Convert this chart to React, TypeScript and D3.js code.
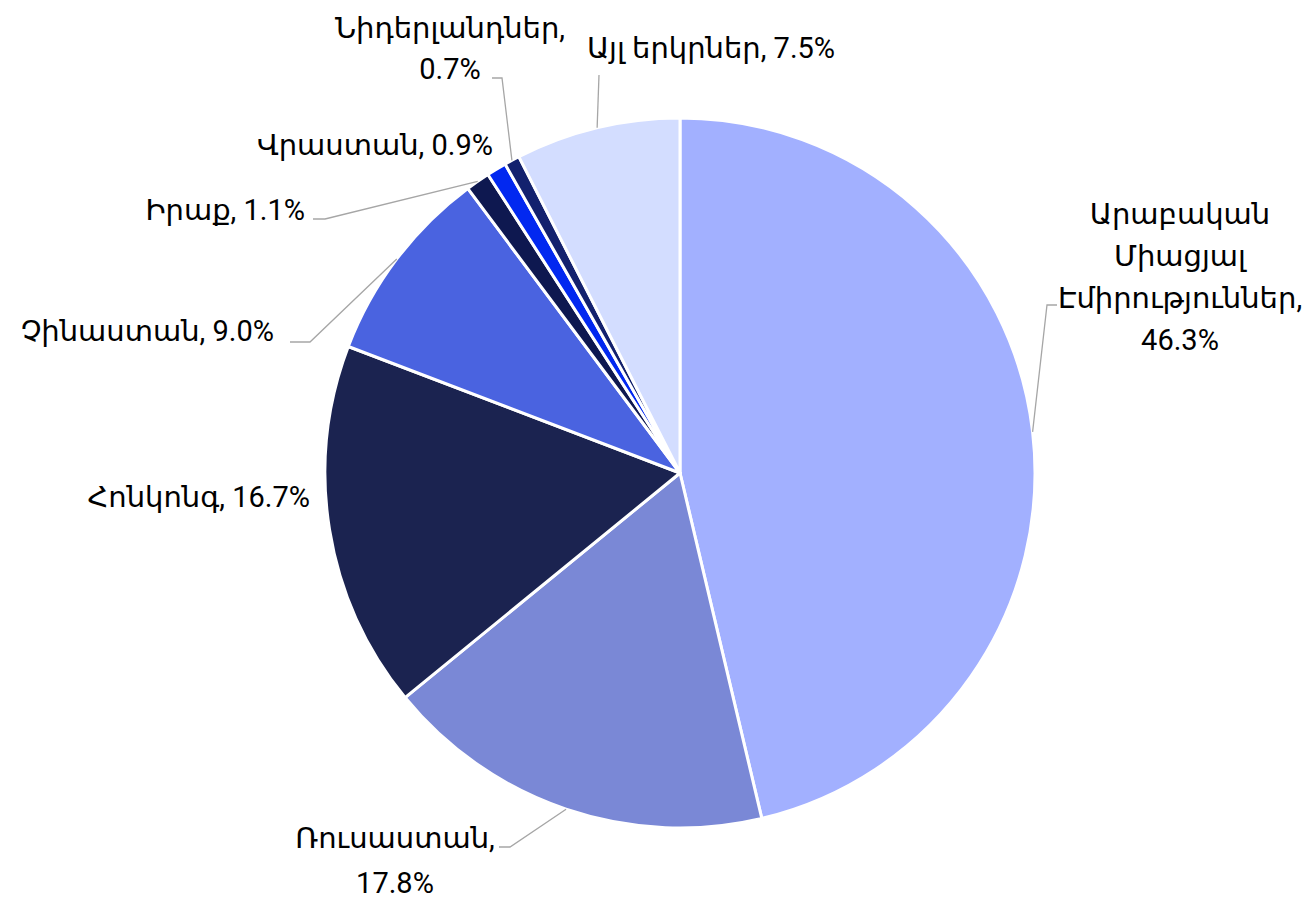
import React from "react";
import * as d3 from "d3";

const countries = [
  "Արաբական Միացյալ Էմիրություններ",
  "Ռուսաստան",
  "Հոնկոնգ",
  "Չինաստան",
  "Իրաք",
  "Վրաստան",
  "Նիդերլանդներ",
  "Այլ երկրներ",
];
const shares = [46.3, 17.8, 16.7, 9.0, 1.1, 0.9, 0.7, 7.5];
const colors = ["#a2b0ff", "#7a88d6", "#1b2350", "#4a63e0", "#0e1850", "#0228f0", "#13216e", "#d3ddff"];

// label text lines
const labelLines: string[][] = [
  ["Արաբական", "Միացյալ", "Էմիրություններ,", "46.3%"],
  ["Ռուսաստան,", "17.8%"],
  ["Հոնկոնգ, 16.7%"],
  ["Չինաստան, 9.0%"],
  ["Իրաք, 1.1%"],
  ["Վրաստան, 0.9%"],
  ["Նիդերլանդներ,", "0.7%"],
  ["Այլ երկրներ, 7.5%"],
];

// layout: text anchor position, alignment, line height, leader elbow points
type Lay = { x: number; y: number; anchor: string; lh: number; leader?: [number, number][] };
const layout: Lay[] = [
  { x: 1180, y: 224, anchor: "middle", lh: 42, leader: [[1047, 305], [1057, 305]] },
  { x: 395, y: 848, anchor: "middle", lh: 45, leader: [[510, 847], [499, 847]] },
  { x: 310, y: 507, anchor: "end", lh: 42 },
  { x: 274, y: 341, anchor: "end", lh: 42, leader: [[310, 342], [290, 342]] },
  { x: 305, y: 220, anchor: "end", lh: 42, leader: [[325, 219], [313, 219]] },
  { x: 493, y: 155, anchor: "end", lh: 42 },
  { x: 450, y: 38, anchor: "middle", lh: 41, leader: [[502, 78], [492, 78]] },
  { x: 711, y: 58, anchor: "middle", lh: 42, leader: [[599, 75]] },
];

const W = 1302;
const H = 900;
const cx = 680;
const cy = 473;
const R = 355;

export default function App() {
  const pie = d3.pie<number>().sort(null).value((d) => d)(shares);
  const arc = d3.arc<d3.PieArcDatum<number>>().innerRadius(0).outerRadius(R);
  const font = "Roboto, 'DejaVu Sans', 'Noto Sans', sans-serif";
  return (
    <svg width={W} height={H} style={{ position: "absolute", left: 0, top: 0, background: "#fff" }}>
      <g transform={`translate(${cx},${cy})`}>
        {pie.map((p, i) => (
          <path key={i} d={arc(p) || ""} fill={colors[i]} stroke="#fff" strokeWidth={3} strokeLinejoin="round" />
        ))}
      </g>
      {pie.map((p, i) => {
        const lay = layout[i];
        if (!lay.leader) return null;
        const mid = (p.startAngle + p.endAngle) / 2;
        const sx = cx + R * Math.sin(mid);
        const sy = cy - R * Math.cos(mid);
        const pts: [number, number][] = [[sx, sy], ...lay.leader];
        return (
          <path key={"l" + i} d={d3.line()(pts) || ""} fill="none" stroke="#a6a6a6" strokeWidth={1.3} />
        );
      })}
      {layout.map((lay, i) => (
        <text key={"t" + i} x={lay.x} y={lay.y} textAnchor={lay.anchor} fontFamily={font} fontSize={29} fill="#000">
          {labelLines[i].map((ln, j) => (
            <tspan key={j} x={lay.x} y={lay.y + j * lay.lh}>
              {ln}
            </tspan>
          ))}
        </text>
      ))}
      <title>{countries.join(", ")}</title>
    </svg>
  );
}
